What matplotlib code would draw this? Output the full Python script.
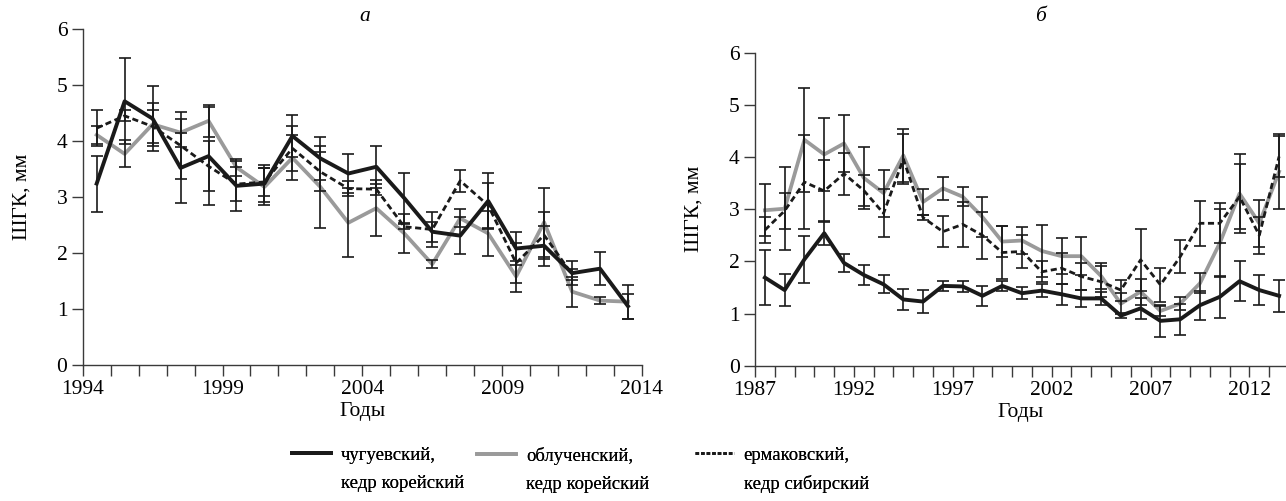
import numpy as np
import matplotlib
matplotlib.use("Agg")
import matplotlib.pyplot as plt
from matplotlib.ticker import MultipleLocator
from matplotlib.lines import Line2D

plt.rcParams['font.family'] = 'serif'
plt.rcParams['font.serif'] = ['Liberation Serif', 'DejaVu Serif']
plt.rcParams['font.size'] = 15

# panel a: 1994-2013
years_a = [1994, 1995, 1996, 1997, 1998, 1999, 2000, 2001, 2002, 2003,
           2004, 2005, 2006, 2007, 2008, 2009, 2010, 2011, 2012, 2013]
chug_a = [3.24, 4.71, 4.40, 3.52, 3.73, 3.20, 3.24, 4.09, 3.69, 3.42,
          3.54, 2.98, 2.38, 2.31, 2.93, 2.08, 2.13, 1.64, 1.72, 1.05]
chug_a_err = [0.50, 0.77, 0.58, 0.62, 0.88, 0.45, 0.33, 0.37, 0.38, 0.35,
              0.38, 0.45, 0.18, 0.33, 0.50, 0.30, 0.36, 0.22, 0.30, 0.22]
obl_a = [4.11, 3.77, 4.30, 4.15, 4.36, 3.53, 3.18, 3.70, 3.18, 2.54,
         2.80, 2.35, 1.80, 2.62, 2.35, 1.58, 2.55, 1.31, 1.15, 1.13]
obl_a_err = [0.16, 0.24, 0.38, 0.25, 0.28, 0.15, 0.33, 0.40, 0.74, 0.62,
             0.50, 0.35, 0.07, 0.16, 0.40, 0.27, 0.62, 0.27, 0.06, 0.30]
erm_a = [4.23, 4.45, 4.26, 3.92, 3.55, 3.23, 3.27, 3.87, 3.45, 3.15,
         3.14, 2.47, 2.42, 3.29, 2.85, 1.82, 2.32, 1.62]
erm_a_err = [0.32, 0.10, 0.30, 0.60, 0.45, 0.30, 0.25, 0.40, 0.35, 0.14,
             0.10, 0.05, 0.32, 0.20, 0.40, 0.35, 0.42, 0.10]

# panel b: 1987-2013
years_b = [1987, 1988, 1989, 1990, 1991, 1992, 1993, 1994, 1995, 1996,
           1997, 1998, 1999, 2000, 2001, 2002, 2003, 2004, 2005, 2006,
           2007, 2008, 2009, 2010, 2011, 2012, 2013]
chug_b = [1.69, 1.45, 2.04, 2.54, 1.97, 1.74, 1.56, 1.27, 1.23, 1.53,
          1.52, 1.34, 1.53, 1.39, 1.44, 1.37, 1.29, 1.29, 0.96, 1.10,
          0.86, 0.89, 1.16, 1.32, 1.62, 1.45, 1.34]
chug_b_err = [0.52, 0.30, 0.45, 0.23, 0.18, 0.20, 0.17, 0.20, 0.22, 0.10,
              0.11, 0.19, 0.10, 0.12, 0.13, 0.20, 0.17, 0.12, 0.05, 0.20,
              0.30, 0.30, 0.28, 0.40, 0.38, 0.28, 0.31]
obl_b = [2.98, 3.01, 4.33, 4.05, 4.26, 3.60, 3.31, 4.03, 3.14, 3.40,
         3.24, 2.85, 2.38, 2.40, 2.20, 2.10, 2.10, 1.72, 1.19, 1.42,
         1.05, 1.19, 1.58, 2.35, 3.30, 2.73, 3.72]
obl_b_err = [0.50, 0.80, 1.00, 0.70, 0.55, 0.60, 0.45, 0.50, 0.25, 0.22,
             0.18, 0.38, 0.30, 0.26, 0.50, 0.34, 0.36, 0.25, 0.20, 0.25,
             0.10, 0.13, 0.19, 0.65, 0.75, 0.45, 0.72]
erm_b = [2.60, 2.97, 3.52, 3.35, 3.68, 3.36, 2.92, 3.96, 2.84, 2.57,
         2.71, 2.50, 2.17, 2.19, 1.80, 1.87, 1.71, 1.61, 1.45, 2.03,
         1.55, 2.09, 2.73, 2.73, 3.24, 2.50, 4.01]
erm_b_err = [0.25, 0.35, 0.90, 0.60, 0.40, 0.30, 0.46, 0.48, 0.05, 0.30,
             0.43, 0.45, 0.50, 0.32, 0.20, 0.30, 0.25, 0.30, 0.20, 0.60,
             0.32, 0.32, 0.43, 0.38, 0.62, 0.35, 0.40]

labels = [('чугуевский,', 'кедр корейский'),
          ('облученский,', 'кедр корейский'),
          ('ермаковский,', 'кедр сибирский')]

BLACK = '#1a1a1a'
GRAY = '#9a9a9a'
SPINE = '#3a3a3a'
DASH = (0, (2.2, 1.3))


def draw_panel(ax, years, series, xlim, major):
    # values sit in the middle of each year
    for vals, errs, color, lw, ls in series:
        x = np.array(years[:len(vals)]) + 0.5
        ax.plot(x, vals, color=color, lw=lw, ls=ls, zorder=2)
    for vals, errs, color, lw, ls in series:
        x = np.array(years[:len(vals)]) + 0.5
        ax.errorbar(x, vals, yerr=errs, fmt='none', ecolor=BLACK,
                    elinewidth=1.2, capsize=4.3, capthick=1.2, zorder=3)
    ax.set_xlim(*xlim)
    ax.set_ylim(0, 6)
    ax.xaxis.set_minor_locator(MultipleLocator(1))
    ax.set_xticks(major)
    ax.set_yticks(range(0, 7))
    for s in ['top', 'right']:
        ax.spines[s].set_visible(False)
    for s in ['left', 'bottom']:
        ax.spines[s].set_color(SPINE)
        ax.spines[s].set_linewidth(1.0)
    ax.tick_params(which='both', direction='out', length=8, width=1.0,
                   color=SPINE, labelsize=15.5, pad=3)
    ax.set_xlabel('Годы', fontsize=15.5, labelpad=2)
    ax.set_ylabel('ШГК, мм', fontsize=15.5, labelpad=18)


fig = plt.figure(figsize=(12.86, 5.01), dpi=100)
ax_a = fig.add_axes([0.0643, 0.2715, 0.4349, 0.6705])
ax_b = fig.add_axes([0.5871, 0.270, 0.4129, 0.6248])

draw_panel(ax_a, years_a,
           [(obl_a, obl_a_err, GRAY, 2.7, '-'),
            (erm_a, erm_a_err, BLACK, 2.0, DASH),
            (chug_a, chug_a_err, BLACK, 2.8, '-')],
           (1994, 2014), [1994, 1999, 2004, 2009, 2014])
draw_panel(ax_b, years_b,
           [(obl_b, obl_b_err, GRAY, 2.7, '-'),
            (erm_b, erm_b_err, BLACK, 2.0, DASH),
            (chug_b, chug_b_err, BLACK, 2.8, '-')],
           (1987, 2013.85), [1987, 1992, 1997, 2002, 2007, 2012])

fig.text(0.2838, 0.968, 'а', style='italic', fontsize=15.5, ha='center', va='center')
fig.text(0.8087, 0.968, 'б', style='italic', fontsize=15.5, ha='center', va='center')

handles = [Line2D([], [], color=BLACK, lw=2.8),
           Line2D([], [], color=GRAY, lw=2.7),
           Line2D([], [], color=BLACK, lw=2.0, ls=(0, (1.3, 0.7)))]
blank = Line2D([], [], color='none')
legend_x = [0.227, 0.371, 0.5404]
for h, lab, lx in zip(handles, labels, legend_x):
    # handle sits beside the first line of the label only
    leg = fig.legend(handles=[h, blank], labels=list(lab), loc='upper left',
                     bbox_to_anchor=(lx, 0.108), frameon=False,
                     fontsize=13.5, handlelength=2.1, handletextpad=0.5,
                     labelspacing=0.6, borderaxespad=0, borderpad=0)
    fig.add_artist(leg)

fig.savefig('out.png', dpi=100)
